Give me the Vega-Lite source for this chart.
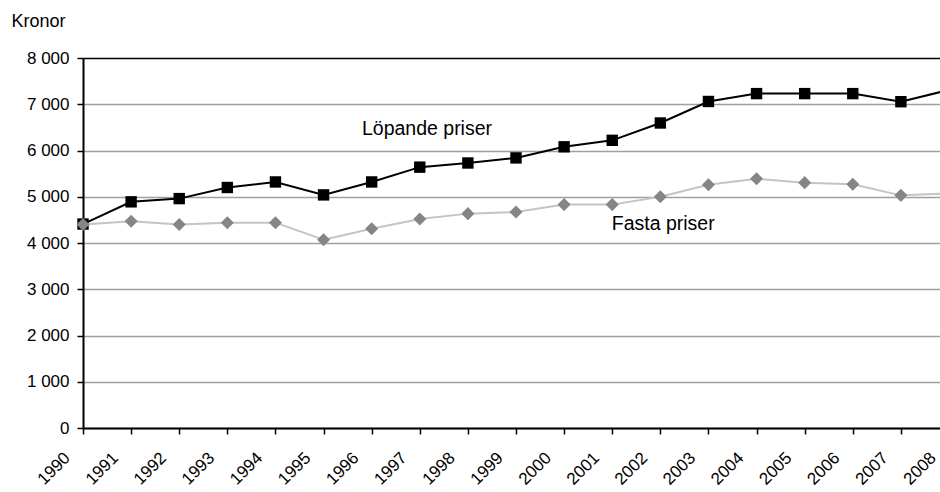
{
  "$schema": "https://vega.github.io/schema/vega-lite/v6.json",
  "width": 857,
  "height": 370,
  "autosize": {"type": "none"},
  "padding": {"left": 83, "top": 58, "right": 0, "bottom": 64},
  "background": "white",
  "config": {
    "view": {"stroke": null},
    "font": "Liberation Sans"
  },
  "datasets": {
    "series": [
      {"year": 1990, "series": "Löpande", "value": 4410},
      {"year": 1991, "series": "Löpande", "value": 4890},
      {"year": 1992, "series": "Löpande", "value": 4960},
      {"year": 1993, "series": "Löpande", "value": 5200},
      {"year": 1994, "series": "Löpande", "value": 5320},
      {"year": 1995, "series": "Löpande", "value": 5040},
      {"year": 1996, "series": "Löpande", "value": 5320},
      {"year": 1997, "series": "Löpande", "value": 5640},
      {"year": 1998, "series": "Löpande", "value": 5730},
      {"year": 1999, "series": "Löpande", "value": 5840},
      {"year": 2000, "series": "Löpande", "value": 6080},
      {"year": 2001, "series": "Löpande", "value": 6220},
      {"year": 2002, "series": "Löpande", "value": 6595},
      {"year": 2003, "series": "Löpande", "value": 7060},
      {"year": 2004, "series": "Löpande", "value": 7230},
      {"year": 2005, "series": "Löpande", "value": 7230},
      {"year": 2006, "series": "Löpande", "value": 7230},
      {"year": 2007, "series": "Löpande", "value": 7055},
      {"year": 2008, "series": "Löpande", "value": 7310},
      {"year": 1990, "series": "Fasta", "value": 4400},
      {"year": 1991, "series": "Fasta", "value": 4470},
      {"year": 1992, "series": "Fasta", "value": 4400},
      {"year": 1993, "series": "Fasta", "value": 4440},
      {"year": 1994, "series": "Fasta", "value": 4440},
      {"year": 1995, "series": "Fasta", "value": 4070},
      {"year": 1996, "series": "Fasta", "value": 4310},
      {"year": 1997, "series": "Fasta", "value": 4520},
      {"year": 1998, "series": "Fasta", "value": 4635},
      {"year": 1999, "series": "Fasta", "value": 4670},
      {"year": 2000, "series": "Fasta", "value": 4830},
      {"year": 2001, "series": "Fasta", "value": 4830},
      {"year": 2002, "series": "Fasta", "value": 5000},
      {"year": 2003, "series": "Fasta", "value": 5260},
      {"year": 2004, "series": "Fasta", "value": 5390},
      {"year": 2005, "series": "Fasta", "value": 5305},
      {"year": 2006, "series": "Fasta", "value": 5270},
      {"year": 2007, "series": "Fasta", "value": 5030},
      {"year": 2008, "series": "Fasta", "value": 5075}
    ],
    "labels": [
      {"year": 1997.15, "value": 6340, "label": "Löpande priser"},
      {"year": 2002.06, "value": 4290, "label": "Fasta priser"}
    ]
  },
  "data": {"name": "series"},
  "encoding": {
    "x": {
      "field": "year",
      "type": "quantitative",
      "scale": {"domain": [1990, 2008], "range": [0, 866], "nice": false, "zero": false},
      "axis": {
        "values": [1990, 1991, 1992, 1993, 1994, 1995, 1996, 1997, 1998, 1999, 2000, 2001, 2002, 2003, 2004, 2005, 2006, 2007, 2008],
        "format": "d",
        "title": null,
        "grid": false,
        "labelAngle": -45,
        "labelAlign": "right",
        "labelBaseline": "middle",
        "labelOffset": -16,
        "labelPadding": 21,
        "labelFontSize": 17,
        "labelColor": "black",
        "labelOverlap": false,
        "labelFlush": false,
        "labelBound": false,
        "tickSize": 6,
        "tickColor": "black",
        "tickWidth": 1.5,
        "domainColor": "black",
        "domainWidth": 2
      }
    },
    "y": {
      "field": "value",
      "type": "quantitative",
      "scale": {"domain": [0, 8000], "nice": false},
      "axis": {
        "values": [0, 1000, 2000, 3000, 4000, 5000, 6000, 7000, 8000],
        "labelExpr": "replace(format(datum.value, ','), ',', ' ')",
        "labelFontSize": 17,
        "labelColor": "black",
        "labelPadding": 8,
        "tickSize": 6,
        "tickColor": "black",
        "tickWidth": 1.5,
        "domainColor": "black",
        "domainWidth": 2,
        "gridColor": {"condition": {"test": "datum.value === 8000", "value": "black"}, "value": "#a0a0a0"},
        "gridWidth": 1.5,
        "title": "Kronor",
        "titleAngle": 0,
        "titleAlign": "left",
        "titleBaseline": "alphabetic",
        "titleX": -72,
        "titleY": -32,
        "titleFontSize": 18,
        "titleFontWeight": "normal",
        "titleColor": "black"
      }
    }
  },
  "layer": [
    {
      "transform": [{"filter": "datum.series === 'Löpande'"}],
      "mark": {"type": "line", "color": "black", "strokeWidth": 2}
    },
    {
      "transform": [{"filter": "datum.series === 'Löpande'"}],
      "mark": {"type": "point", "shape": "square", "filled": true, "color": "black", "size": 130, "opacity": 1}
    },
    {
      "transform": [{"filter": "datum.series === 'Fasta'"}],
      "mark": {"type": "line", "color": "#c4c4c4", "strokeWidth": 2}
    },
    {
      "transform": [{"filter": "datum.series === 'Fasta'"}],
      "mark": {"type": "point", "shape": "diamond", "filled": true, "color": "#858585", "size": 170, "opacity": 1}
    },
    {
      "data": {"name": "labels"},
      "mark": {"type": "text", "align": "center", "baseline": "alphabetic", "fontSize": 19.5, "color": "black"},
      "encoding": {"text": {"field": "label"}}
    }
  ]
}
